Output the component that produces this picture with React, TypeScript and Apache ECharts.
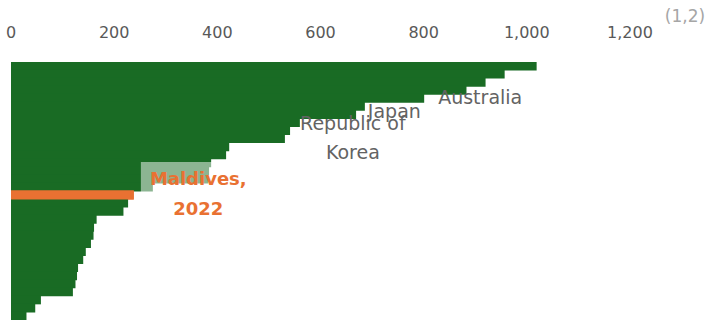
import React, { useEffect, useRef } from 'react';
import * as echarts from 'echarts';

// Economies, sorted from the largest value to the smallest (top to bottom)
const categories: string[] = [
  'Economy 1', 'Economy 2', 'Economy 3', 'Economy 4', 'Australia',
  'Japan', 'Economy 7', 'Republic of Korea', 'Economy 9', 'Economy 10',
  'Economy 11', 'Economy 12', 'Economy 13', 'Economy 14', 'Economy 15',
  'Economy 16', 'Maldives', 'Economy 18', 'Economy 19', 'Economy 20',
  'Economy 21', 'Economy 22', 'Economy 23', 'Economy 24', 'Economy 25',
  'Economy 26', 'Economy 27', 'Economy 28', 'Economy 29', 'Economy 30',
  'Economy 31', 'Economy 32',
];

const values: number[] = [
  1019, 957, 920, 883, 801,
  686, 669, 560, 541, 531,
  423, 417, 388, 384, 382,
  275, 238, 227, 218, 166,
  161, 160, 155, 145, 140,
  130, 128, 125, 120, 58,
  47, 30,
];

const xTicks: number[] = [0, 200, 400, 600, 800, 1000, 1200];

const highlighted = 'Maldives';
const highlightYear = '2022';
const footnote = '(1,2)';

const GREEN = '#196B24';
const ORANGE = '#E97132';
const AXIS_GREY = '#595959';
const LABEL_GREY = '#636363';
const FONT = 'DejaVu Sans';
const BAR_WIDTH = 9; // slightly wider than a band so neighbouring bars close up without seams

// Call-out label placement per economy
const calloutStyle: Record<string, any> = {
  Australia: { text: 'Australia', distance: 14, offset: [0, -1] },
  Japan: { text: 'Japan', distance: 3, offset: [0, 5] },
  'Republic of Korea': {
    text: 'Republic of\nKorea', distance: 53, offset: [0, 15], align: 'center', lineHeight: 28.5,
  },
};

function greenData() {
  return values.map((v, i) => {
    const name = categories[i];
    const item: any = { value: v, name };
    if (name === highlighted) {
      item.itemStyle = { color: ORANGE };
    } else if (calloutStyle[name]) {
      const c = calloutStyle[name];
      item.label = {
        show: true,
        position: 'right',
        distance: c.distance,
        offset: c.offset,
        align: c.align || 'left',
        verticalAlign: 'middle',
        formatter: c.text,
        color: LABEL_GREY,
        fontFamily: FONT,
        fontSize: 19,
        lineHeight: c.lineHeight || 22,
      };
    }
    return item;
  });
}

// The highlighted economy is drawn again on top of its neighbours
function highlightData() {
  return values.map((v, i) => (categories[i] === highlighted ? v : '-'));
}

export default function App() {
  const ref = useRef<HTMLDivElement>(null);

  useEffect(() => {
    const chart = echarts.init(ref.current!, null, { renderer: 'svg' });
    chart.setOption({
      animation: false,
      grid: { left: 11, right: 76, top: 62, bottom: 0, containLabel: false },
      xAxis: {
        type: 'value',
        position: 'top',
        min: xTicks[0],
        max: xTicks[xTicks.length - 1],
        interval: xTicks[1] - xTicks[0],
        axisLine: { show: false },
        axisTick: { show: false },
        splitLine: { show: false },
        axisLabel: {
          margin: 22,
          color: AXIS_GREY,
          fontFamily: FONT,
          fontSize: 16,
          formatter: (v: number) => v.toLocaleString('en-US'),
        },
      },
      yAxis: {
        type: 'category',
        inverse: true,
        data: categories,
        axisLine: { show: false },
        axisTick: { show: false },
        axisLabel: { show: false },
        splitLine: { show: false },
      },
      series: [
        {
          type: 'bar',
          data: greenData(),
          barWidth: BAR_WIDTH,
          barGap: '-100%',
          itemStyle: { color: GREEN },
          label: { show: false },
        },
        {
          type: 'bar',
          data: highlightData(),
          barWidth: BAR_WIDTH,
          barGap: '-100%',
          z: 3,
          itemStyle: { color: ORANGE },
          label: {
            show: true,
            position: 'right',
            distance: 66,
            offset: [0, -1.5],
            align: 'center',
            verticalAlign: 'middle',
            formatter: `${highlighted},\n${highlightYear}`,
            color: ORANGE,
            fontFamily: FONT,
            fontWeight: 'bold',
            fontSize: 18,
            lineHeight: 30.6,
            backgroundColor: 'rgba(255,255,255,0.5)',
            padding: [1, 12, 1, 9],
          },
        },
      ],
      graphic: [
        {
          type: 'text',
          x: 685,
          y: 16,
          z: 10,
          style: {
            text: footnote,
            fill: '#A6A6A6',
            font: `17px "${FONT}"`,
            align: 'center',
            verticalAlign: 'middle',
          },
        },
      ],
    });
    return () => chart.dispose();
  }, []);

  return (
    <div
      ref={ref}
      style={{ position: 'absolute', left: 0, top: 0, width: 706, height: 320 }}
    />
  );
}
